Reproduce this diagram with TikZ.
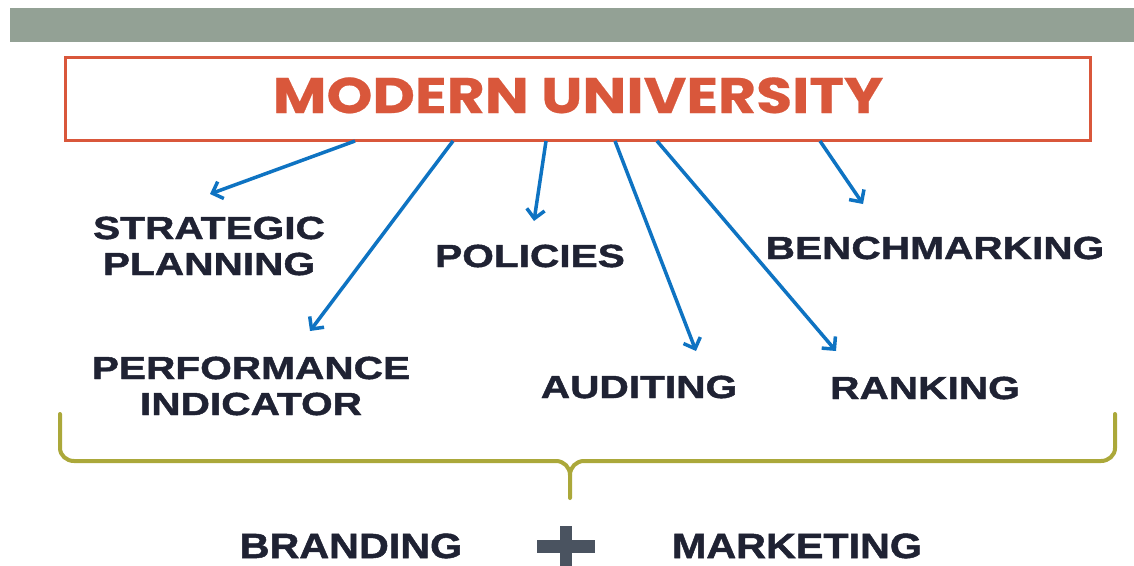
\documentclass[tikz,border=0pt]{standalone}
\usepackage{fontspec}
\usetikzlibrary{arrows.meta}
\newfontfamily\lblfont[FakeStretch=1.27,FakeBold=1.4]{Liberation Sans Bold}
\newfontfamily\titlefont[FakeStretch=1.17,FakeBold=0.5]{Poppins Bold}
\newfontfamily\condfont[FakeStretch=1.18,FakeBold=1.4]{Liberation Sans Bold}
\definecolor{barcol}{HTML}{93A195}
\definecolor{titlered}{HTML}{D9573B}
\definecolor{arrowblue}{HTML}{0E73C2}
\definecolor{txt}{HTML}{1F2233}
\definecolor{bracecol}{HTML}{ABA83A}
\definecolor{pluscol}{HTML}{4A5360}
\tikzset{
  lbl/.style={font=\lblfont\fontsize{32}{36}\selectfont, text=txt, inner sep=0pt, align=center},
  cond/.style={font=\condfont\fontsize{35}{40}\selectfont, text=txt, inner sep=0pt},
  arr/.style={draw=arrowblue, line width=3.5pt, -{Straight Barb[length=9pt,width=18pt,line width=3.5pt]}},
  bracestyle/.style={draw=bracecol, line width=4pt},
}
\begin{document}
\begin{tikzpicture}[x=1pt,y=-1pt]
\useasboundingbox (0,0) rectangle (1134,565);
\fill[white] (0,0) rectangle (1134,565);
\fill[barcol] (10,8) rectangle (1134,42);
\node[draw=titlered, line width=3pt, minimum width=1025pt, minimum height=83pt, inner sep=0pt] (box) at (577.5,98.5) {};
\node[font=\titlefont\fontsize{50}{54}\selectfont, text=titlered, inner sep=0pt, anchor=base] (title) at (578,113) {MODERN UNIVERSITY};

\node[lbl] (strat) at (209,246) {STRATEGIC\\PLANNING};
\node[lbl] (perf) at (251,386) {PERFORMANCE\\INDICATOR};
\node[lbl] (pol) at (530,256) {POLICIES};
\node[lbl] (bench) at (935,248) {BENCHMARKING};
\node[lbl] (aud) at (639,387) {AUDITING};
\node[lbl] (rank) at (925,388) {RANKING};

\coordinate (s1) at (355,141);
\coordinate (s2) at (453,141);
\coordinate (s3) at (546,141);
\coordinate (s4) at (615,141);
\coordinate (s5) at (657,141);
\coordinate (s6) at (820,141);
\coordinate (t1) at (210,194);
\coordinate (t2) at (310,331);
\coordinate (t3) at (534,221);
\coordinate (t4) at (696,351);
\coordinate (t5) at (836,351);
\coordinate (t6) at (863,204);
\foreach \i in {1,...,6} \draw[arr] (s\i) -- (t\i);

\coordinate (bl) at (60,414);
\coordinate (br) at (1115,414);
\coordinate (btip) at (570,498);
\draw[bracestyle, line cap=round, line join=round] (bl) -- (60,448) to[out=-90,in=180] (74,461) -- (556,461) to[out=0,in=90] (570,475) -- (btip);
\draw[bracestyle, line cap=round, line join=round] (br) -- (1115,448) to[out=-90,in=0] (1101,461) -- (584,461) to[out=180,in=90] (570,475);

\node[cond, anchor=base] (brand) at (351,558) {BRANDING};
\node[cond, anchor=base] (mark) at (797,558) {MARKETING};
\node[inner sep=0pt, minimum width=58pt, minimum height=40pt] (plus) at (566,546) {};
\fill[pluscol] (537,540) rectangle (595,553);
\fill[pluscol] (560,526) rectangle (572,566);
\end{tikzpicture}
\end{document}
